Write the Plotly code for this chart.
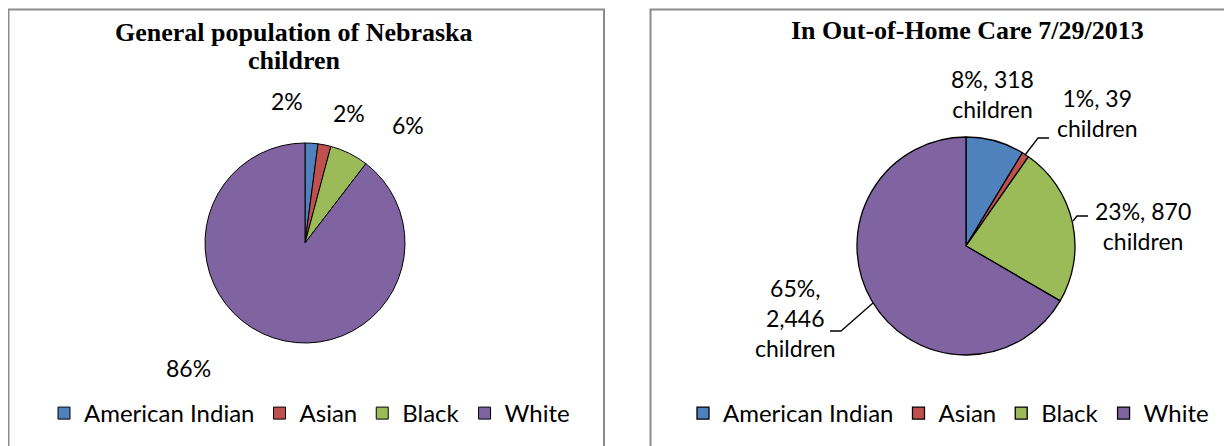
import plotly.graph_objects as go

W, H = 1232, 446
OFF = 8  # page body margin of the exported html

categories = ["American Indian", "Asian", "Black", "White"]
colors = ["#4F81BD", "#C0504D", "#9BBB59", "#8064A2"]

general_pct = [2, 2, 6, 86]
general_labels = ["2%", "2%", "6%", "86%"]

ohc_children = [318, 39, 870, 2446]
ohc_labels = ["8%, 318<br>children", "1%, 39<br>children", "23%, 870<br>children", "65%,<br>2,446<br>children"]

left_title_lines = ["General population of Nebraska", "children"]
right_title = "In Out-of-Home Care 7/29/2013"

FONT = "Lato, 'Open Sans', sans-serif"
TFONT = "'Liberation Serif', 'Times New Roman', serif"


def px(x):
    return (x - OFF) / W


def py(y):
    return 1 - (y - OFF) / H


def dom(cx, cy, r):
    return dict(x=[px(cx - r), px(cx + r)], y=[py(cy + r), py(cy - r)])


fig = go.Figure()
fig.add_trace(go.Pie(
    labels=categories, values=general_pct, sort=False, direction="clockwise",
    rotation=0, textinfo="none", hoverinfo="label+value",
    marker=dict(colors=colors, line=dict(color="black", width=1)),
    domain=dom(305, 243, 100), legend="legend", showlegend=True,
))
# zero-width space keeps the second pie's legend entries distinct from the first
fig.add_trace(go.Pie(
    labels=[c + "\u200b" for c in categories], values=ohc_children, sort=False,
    direction="clockwise", rotation=0, textinfo="none", hoverinfo="label+value",
    marker=dict(colors=colors, line=dict(color="black", width=1.3)),
    domain=dom(966, 246, 109), legend="legend2", showlegend=True,
))

annotations = []
# titles
for t, y in zip(left_title_lines, [32, 60]):
    annotations.append(dict(x=px(294), y=py(y), text="<b>" + t + "</b>",
                            showarrow=False, xanchor="center", yanchor="middle",
                            font=dict(family=TFONT, size=26, color="black")))
annotations.append(dict(x=px(967), y=py(30), text="<b>" + right_title + "</b>",
                        showarrow=False, xanchor="center", yanchor="middle",
                        font=dict(family=TFONT, size=26, color="black")))

# data labels (centres of the label text, px)
left_pos = [(287, 101), (349, 113), (408, 125), (188, 368)]
for t, (x, y) in zip(general_labels, left_pos):
    annotations.append(dict(x=px(x), y=py(y), text=t, showarrow=False, xanchor="center",
                            yanchor="middle", font=dict(family=FONT, size=23, color="black")))

right_pos = [(992, 94), (1097, 113), (1143, 226), (795, 318)]
for t, (x, y) in zip(ohc_labels, right_pos):
    annotations.append(dict(x=px(x), y=py(y), text=t, showarrow=False, xanchor="center",
                            yanchor="middle", font=dict(family=FONT, size=23, color="black")))

shapes = [
    dict(type="rect", xref="paper", yref="paper", x0=px(8.5), x1=px(604), y0=-0.2, y1=py(9.5),
         line=dict(color="#8C8C8C", width=2), fillcolor="rgba(0,0,0,0)", layer="below"),
    dict(type="rect", xref="paper", yref="paper", x0=px(650.5), x1=1.2, y0=-0.2, y1=py(9.5),
         line=dict(color="#8C8C8C", width=2), fillcolor="rgba(0,0,0,0)", layer="below"),
]
# leader lines
for pts in [[(1025, 155), (1038, 138), (1049, 138)],
            [(1073, 221), (1077, 216), (1088, 216)],
            [(873, 303), (841, 331), (830, 331)]]:
    path = "M " + " L ".join(f"{px(x)},{py(y)}" for x, y in pts)
    shapes.append(dict(type="path", xref="paper", yref="paper", path=path,
                       line=dict(color="black", width=1.3)))

fig.update_layout(
    width=W, height=H, margin=dict(l=0, r=0, t=0, b=0),
    paper_bgcolor="white", plot_bgcolor="white",
    annotations=annotations, shapes=shapes,
    legend=dict(orientation="h", x=px(44), y=py(391), xanchor="left", yanchor="top",
                font=dict(family=FONT, size=24, color="black"), bgcolor="rgba(0,0,0,0)",
                itemclick=False, itemdoubleclick=False),
    legend2=dict(orientation="h", x=px(683), y=py(391), xanchor="left", yanchor="top",
                 font=dict(family=FONT, size=24, color="black"), bgcolor="rgba(0,0,0,0)",
                 itemclick=False, itemdoubleclick=False),
)

fig.write_html("out.html")
